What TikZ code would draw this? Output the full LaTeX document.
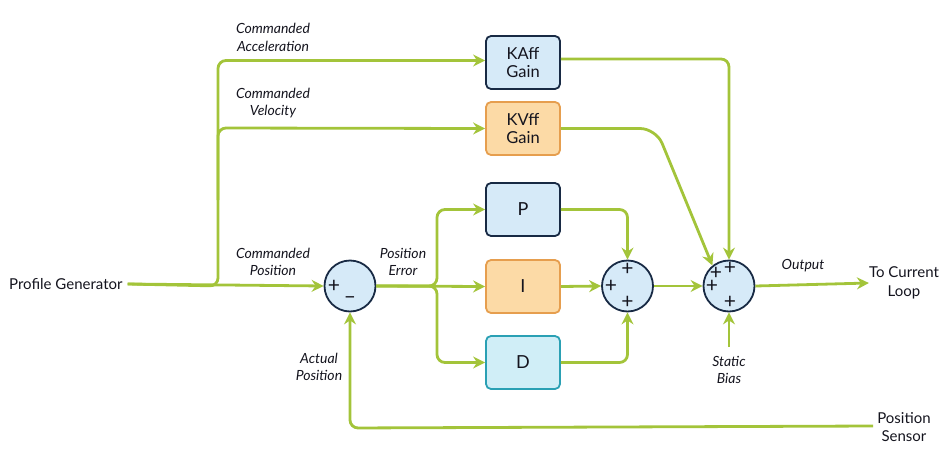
\documentclass[tikz,border=0pt]{standalone}
\usepackage{fontspec}
\setmainfont{Lato}
\usetikzlibrary{arrows.meta}
\definecolor{lgreen}{RGB}{163,196,58}
\definecolor{navy}{RGB}{24,42,68}
\definecolor{bfill}{RGB}{214,234,248}
\definecolor{ofill}{RGB}{252,218,166}
\definecolor{odraw}{RGB}{230,158,78}
\definecolor{cfill}{RGB}{208,238,247}
\definecolor{tealc}{RGB}{42,160,180}
\definecolor{txtc}{RGB}{20,20,30}
\begin{document}
\begin{tikzpicture}[x=1pt,y=-1pt,
  conn/.style={draw=lgreen,line width=2.8pt,rounded corners=8pt,-{Stealth[length=12pt,width=12pt,inset=4pt]}},
  gbox/.style={rectangle,rounded corners=5pt,line width=1.8pt,minimum width=74pt,minimum height=53pt,align=center,font=\fontsize{16.5}{18}\selectfont,text=txtc,inner sep=0pt},
  bluebox/.style={gbox,draw=navy,fill=bfill},
  orbox/.style={gbox,draw=odraw,fill=ofill},
  cybox/.style={gbox,draw=tealc,fill=cfill},
  bigl/.style={font=\fontsize{18}{18}\selectfont},
  sumc/.style={circle,draw=navy,fill=bfill,line width=1.8pt,minimum size=51pt,inner sep=0pt},
  lbl/.style={font=\fontsize{14}{17.5}\selectfont\itshape,text=txtc,align=center,inner sep=0pt},
  txt/.style={font=\fontsize{15}{18.5}\selectfont,text=txtc,align=center,inner sep=0pt},
  sgn/.style={font=\fontsize{21}{21}\selectfont,text=txtc,inner sep=0pt}
]
\useasboundingbox (0,0) rectangle (950,471);

% blocks
\node[bluebox] (ka) at (523,62.5) {KAff\\Gain};
\node[orbox] (kv) at (523,128.5) {KVff\\Gain};
\node[bluebox,bigl] (p) at (523,209.5) {P};
\node[orbox,bigl] (i) at (523,286.5) {I};
\node[cybox,bigl] (d) at (523,362.5) {D};
\node[sumc] (s1) at (350,286) {};
\node[sumc] (s2) at (627.5,286) {};
\node[sumc] (s3) at (729,286) {};

% signs
\node[sgn] at (334,286) {+};
\node[sgn] at (350,300) {–};
\node[sgn] at (627.5,269) {+};
\node[sgn] at (611,286) {+};
\node[sgn] at (627.5,302) {+};
\node[sgn] at (716,273) {+};
\node[sgn] at (730,268.5) {+};
\node[sgn] at (712,286.5) {+};
\node[sgn] at (730,302) {+};

% texts
\node[txt,anchor=west] (pg) at (9,284) {Profile Generator};
\node[txt] (tcl) at (904,283) {To Current\\Loop};
\node[txt] (ps) at (904,427) {Position\\Sensor};
\node[lbl] (lca) at (273,37.5) {Commanded\\Acceleration};
\node[lbl] (lcv) at (273,103) {Commanded\\Velocity};
\node[lbl] (lcp) at (273,262) {Commanded\\Position};
\node[lbl] (lpe) at (403,262) {Position\\Error};
\node[lbl] (lap) at (319,367) {Actual\\Position};
\node[lbl] (lout) at (803,266) {Output};
\node[lbl] (lsb) at (729,370) {Static\\Bias};

\coordinate (sbtop) at (729,347);

% connectors
\draw[conn] (pg.east) ++(5pt,0) coordinate (pgs) -- (s1.west);
\draw[conn] (pgs) -- (218,286) -- (218,60.5) -- (ka.west |- 0,60.5);
\draw[conn] (218,200) -- (218,128) -- (kv.west);
\draw[conn] (s1.east) -- (i.west);
\draw[conn] (s1.east) -- (437,286) -- (437,209.5) -- (p.west);
\draw[conn] (s1.east) -- (437,286) -- (437,362.5) -- (d.west);
\draw[conn] (p.east) -- (627.5,209.5) -- (s2.north);
\draw[conn] (d.east) -- (627.5,362.5) -- (s2.south);
\draw[conn] (i.east) -- (s2.west);
\draw[conn] (s2.east) -- (s3.west);
\draw[conn] (ka.east |- 0,59) -- (729,59) -- (s3.north);
\draw[conn,rounded corners=16pt] (kv.east) -- (656,128.5) -- (s3.129);
\draw[conn] (s3.east) -- (tcl.west);
\draw[conn] (sbtop) -- (s3.south);
\draw[conn] (ps.west) ++(-4pt,1pt) -- (350,428) -- (s1.south);
\end{tikzpicture}
\end{document}
